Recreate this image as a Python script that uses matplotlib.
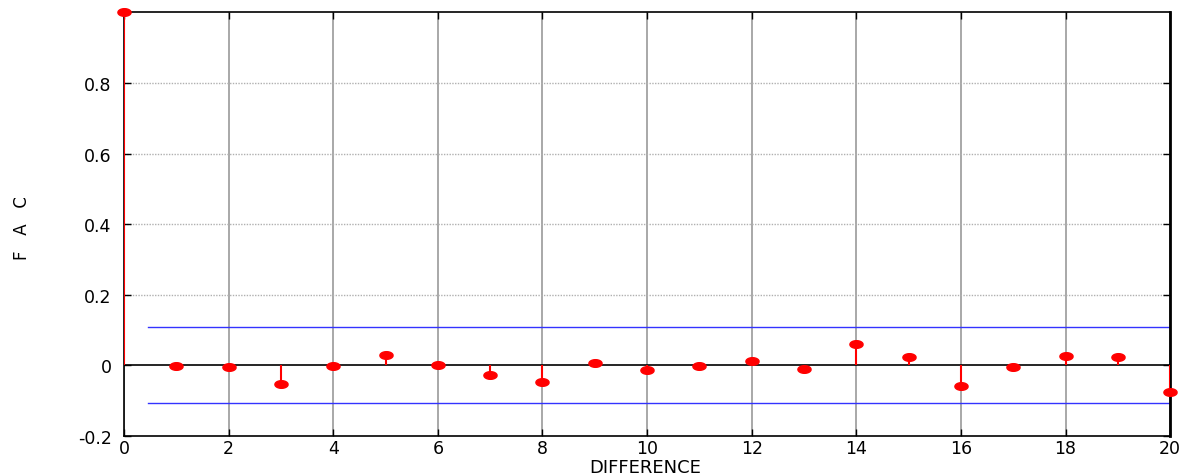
import numpy as np
import matplotlib
matplotlib.use("Agg")
import matplotlib.pyplot as plt

lags = list(range(0, 21))
acf = [1.0, -0.003, -0.006, -0.054, -0.003, 0.028, 0.0, -0.028, -0.048, 0.005,
       -0.014, -0.003, 0.011, -0.010, 0.060, 0.022, -0.059, -0.007, 0.026, 0.023, -0.076]
band = 0.108
band_start = 0.45
xticks = list(range(0, 21, 2))
yticks = [-0.2, 0, 0.2, 0.4, 0.6, 0.8]
ytick_labels = ["-0.2", "0", "0.2", "0.4", "0.6", "0.8"]

plt.rcParams['font.family'] = ['DejaVu Sans']

fig = plt.figure(figsize=(11.94, 4.77), dpi=100)
ax = fig.add_axes([0.1039, 0.0849, 0.8761, 0.8868])

# grid
for xv in xticks:
    ax.axvline(xv, color='#9a9a9a', lw=1.2, zorder=1)
for yv in [0.2, 0.4, 0.6, 0.8]:
    ax.axhline(yv, color='#b0b0b0', lw=1.0, ls=(0, (1, 1)), zorder=1)

ax.plot([0, 20], [0, 0], color='black', lw=1.2, zorder=2)
ax.plot([band_start, 20], [band, band], color='#3333ff', lw=1.0, zorder=2)
ax.plot([band_start, 20], [-band, -band], color='#3333ff', lw=1.0, zorder=2)

# ellipse marker
t = np.linspace(0, 2 * np.pi, 40)
ell = np.column_stack([np.cos(t) * 1.0, np.sin(t) * 0.58])

ax.vlines(lags, 0, acf, color='red', lw=1.5, zorder=3)
ax.plot(lags, acf, ls='none', marker=ell, markersize=9.5, color='red',
        markeredgecolor='red', zorder=4, clip_on=False)

ax.set_xlim(0, 20)
ax.set_ylim(-0.2, 1.0)
ax.set_xticks(xticks)
ax.set_xticklabels([str(v) for v in xticks])
ax.set_yticks(yticks)
ax.set_yticklabels(ytick_labels)
ax.tick_params(direction='in', length=5, width=1, top=True, right=True,
               labelsize=12.5)
ax.tick_params(axis='x', pad=2.5)
ax.tick_params(axis='y', pad=9)
for s in ax.spines.values():
    s.set_linewidth(1.2)
ax.spines['right'].set_linewidth(2)

ax.set_xlabel("DIFFERENCE", fontsize=13)
ax.xaxis.label.set_va('baseline')
ax.xaxis.set_label_coords(0.4986, -0.086)
ax.set_ylabel("F   A   C", fontsize=12)
ax.yaxis.label.set_va('center')
ax.yaxis.set_label_coords(-0.0975, 0.493)

fig.savefig("out.png", dpi=100)
